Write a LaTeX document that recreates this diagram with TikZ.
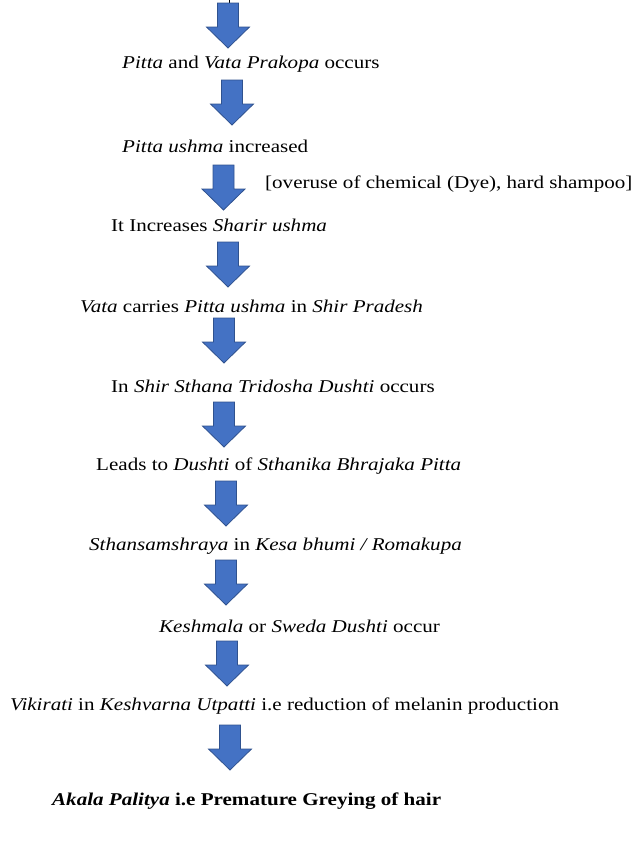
\documentclass[tikz,border=0pt]{standalone}
\usepackage{fontspec}
\setmainfont{Liberation Serif}
\usepackage{graphicx}
\usepackage{tikz}
\usetikzlibrary{positioning}
\definecolor{flowblue}{RGB}{68,114,196}
\definecolor{flowedge}{RGB}{47,82,143}

\newcommand{\widetxt}[1]{\scalebox{1.17}[1]{#1}}

\tikzset{
  steptext/.style={anchor=west,inner sep=0pt,font=\fontsize{18}{22}\selectfont},
  downarrow/.pic={
    \draw[fill=flowblue,draw=flowedge,line width=0.8pt,line join=miter]
      (-10.5,0) -- (10.5,0) -- (10.5,24) -- (21.5,24) -- (0,45)
      -- (-21.5,24) -- (-10.5,24) -- cycle;
  }
}

\begin{document}
\begin{tikzpicture}[x=1pt,y=-1pt]
  \useasboundingbox (0,0) rectangle (632,841);
  % leftover line above the first arrow
  \coordinate (top) at (229,0); \coordinate (topend) at (229,3);
  \draw[line width=0.6pt] (top) -- (topend);
  % block arrows (x, top)
  \foreach \ax/\ay in {228/3,232/80,223.5/165,228/242,224/318,224/402,226/481,226/560,227/641,230/725}
    \pic at (\ax,\ay) {downarrow};
  % steps
  \node[steptext] (s1) at (122,64) {\widetxt{\textit{Pitta} and \textit{Vata Prakopa} occurs}};
  \node[steptext] (s2) at (122,146) {\widetxt{\textit{Pitta ushma} increased}};
  \node[steptext] (cause) at (265,184) {\widetxt{[overuse of chemical (Dye), hard shampoo]}};
  \node[steptext] (s3) at (111,225) {\widetxt{It Increases \textit{Sharir ushma}}};
  \node[steptext] (s4) at (80,306) {\widetxt{\textit{Vata} carries \textit{Pitta ushma} in \textit{Shir Pradesh}}};
  \node[steptext] (s5) at (111,386) {\widetxt{In \textit{Shir Sthana Tridosha Dushti} occurs}};
  \node[steptext] (s6) at (96,466) {\widetxt{Leads to \textit{Dushti} of \textit{Sthanika Bhrajaka Pitta}}};
  \node[steptext] (s7) at (89,546) {\widetxt{\textit{Sthansamshraya} in \textit{Kesa bhumi / Romakupa}}};
  \node[steptext] (s8) at (159,626) {\widetxt{\textit{Keshmala} or \textit{Sweda Dushti} occur}};
  \node[steptext] (s9) at (10,706) {\widetxt{\textit{Vikirati} in \textit{Keshvarna Utpatti} i.e reduction of melanin production}};
  \node[steptext,font=\fontsize{18}{22}\selectfont\bfseries] (result) at (52,801) {\widetxt{\textit{Akala Palitya} i.e Premature Greying of hair}};
\end{tikzpicture}
\end{document}
